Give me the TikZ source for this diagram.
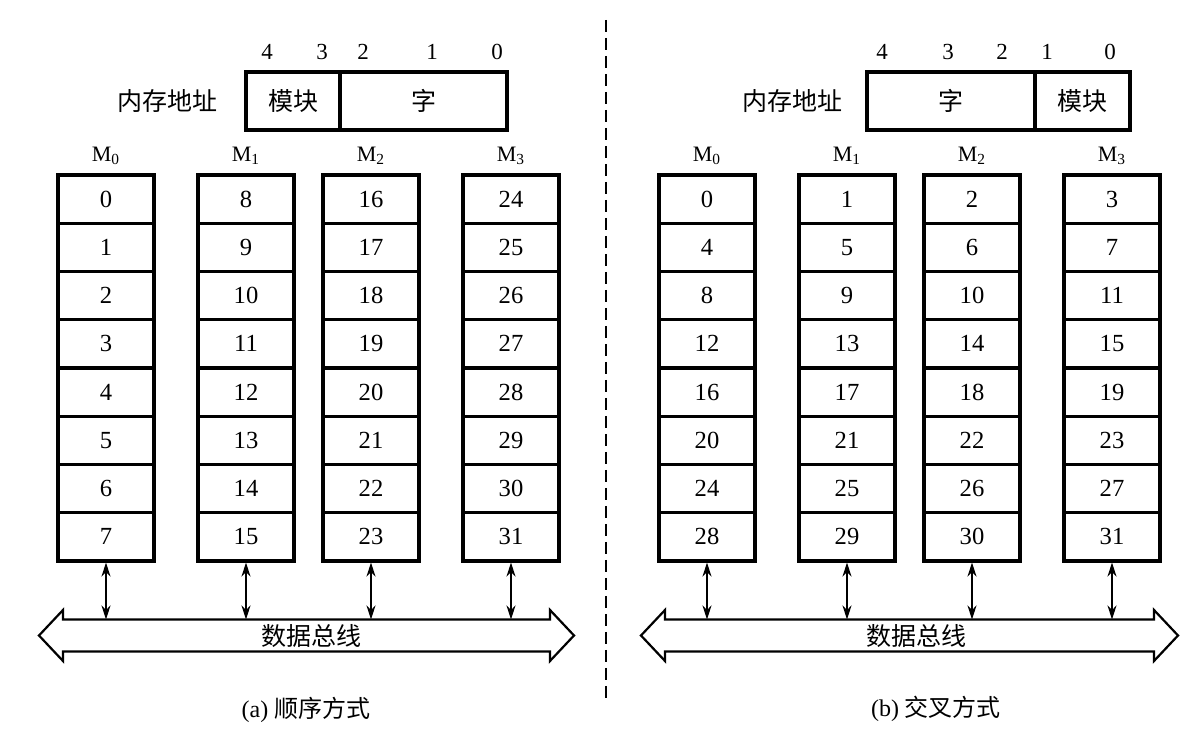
\documentclass[tikz,border=0pt]{standalone}
\usepackage{fontspec}
\setmainfont{Liberation Serif}
\newfontfamily\cjk{Noto Sans CJK SC}
\usetikzlibrary{positioning,arrows.meta}

\begin{document}
\begin{tikzpicture}[x=0.5pt, y=-0.5pt, line cap=butt, >={Stealth[length=7pt,width=4.5pt]},
  cell/.style={draw, line width=1.6pt, minimum width=48pt, minimum height=24.1pt, inner sep=0pt,
    font=\fontsize{12.3}{12}\selectfont},
  field/.style={draw, line width=1.6pt, minimum height=29pt, inner sep=0pt, outer sep=0pt,
    font=\cjk\fontsize{12.5}{13}\selectfont},
  cjklabel/.style={inner sep=0pt, font=\cjk\fontsize{12.5}{13}\selectfont},
  bitlabel/.style={inner sep=0pt, font=\fontsize{11.5}{12}\selectfont},
  modlabel/.style={inner sep=0pt, font=\fontsize{11}{12}\selectfont},
  bus/.style={draw, line width=1.1pt, line join=miter},
  link/.style={<->, line width=0.9pt}]
\useasboundingbox (0,0) rectangle (1190,731);

% (a) sequential: module number in the high bits
\node[cjklabel] (a-addr) at (167,101) {内存地址};
\node[field, minimum width=47pt] (a-mod) at (293,101) {模块};
\node[field, minimum width=83.5pt, right=0pt of a-mod] (a-word) {字};
\foreach \b/\xx in {4/267, 3/322, 2/363, 1/432, 0/497}
  \node[bitlabel] (a-bit\b) at (\xx,52) {\b};

\foreach \m/\xl in {0/58, 1/198, 2/323, 3/463} {
  \node[modlabel] (a-m\m) at (\xl+48,156) {M\textsubscript{\m}};
  \foreach \r in {0,...,7} {
    \pgfmathtruncatemacro\n{\m*8+\r}
    \node[cell] (a-\m-\r) at (\xl+48,199.1+\r*48.25) {\n};
  }
  \coordinate (a-t\m) at (\xl+48,619.5);
  \draw[link] (a-\m-7) -- (a-t\m);
}

\draw[bus] (39,635.5) -- (63,610) -- (63,619.5) -- (550,619.5) -- (550,610) -- (574,635.5)
  -- (550,661) -- (550,651.5) -- (63,651.5) -- (63,661) -- cycle;
\node[cjklabel] (a-bus) at (311,636) {数据总线};
\node[cjklabel] (a-cap) at (306,710) {\fontsize{12}{13}\rmfamily(a) \cjk 顺序方式};

% divider
\coordinate (top) at (606,20);
\coordinate (bot) at (606,699);
\draw[line width=1pt, dash pattern=on 6pt off 3pt] (top) -- (bot);

% (b) interleaved: module number in the low bits
\node[cjklabel] (b-addr) at (792,101) {内存地址};
\node[field, minimum width=84pt] (b-word) at (951,101) {字};
\node[field, minimum width=47.5pt, right=0pt of b-word] (b-mod) {模块};
\foreach \b/\xx in {4/882, 3/948, 2/1002, 1/1047, 0/1110}
  \node[bitlabel] (b-bit\b) at (\xx,52) {\b};

\foreach \m/\xl in {0/659, 1/799, 2/924, 3/1064} {
  \node[modlabel] (b-m\m) at (\xl+48,156) {M\textsubscript{\m}};
  \foreach \r in {0,...,7} {
    \pgfmathtruncatemacro\n{\r*4+\m}
    \node[cell] (b-\m-\r) at (\xl+48,199.1+\r*48.25) {\n};
  }
  \coordinate (b-t\m) at (\xl+48,619.5);
  \draw[link] (b-\m-7) -- (b-t\m);
}

\draw[bus] (641,635.5) -- (665,610) -- (665,619.5) -- (1154,619.5) -- (1154,610) -- (1178,635.5)
  -- (1154,661) -- (1154,651.5) -- (665,651.5) -- (665,661) -- cycle;
\node[cjklabel] (b-bus) at (916,636) {数据总线};
\node[cjklabel] (b-cap) at (936,709) {\fontsize{12}{13}\rmfamily(b) \cjk 交叉方式};

\end{tikzpicture}
\end{document}
